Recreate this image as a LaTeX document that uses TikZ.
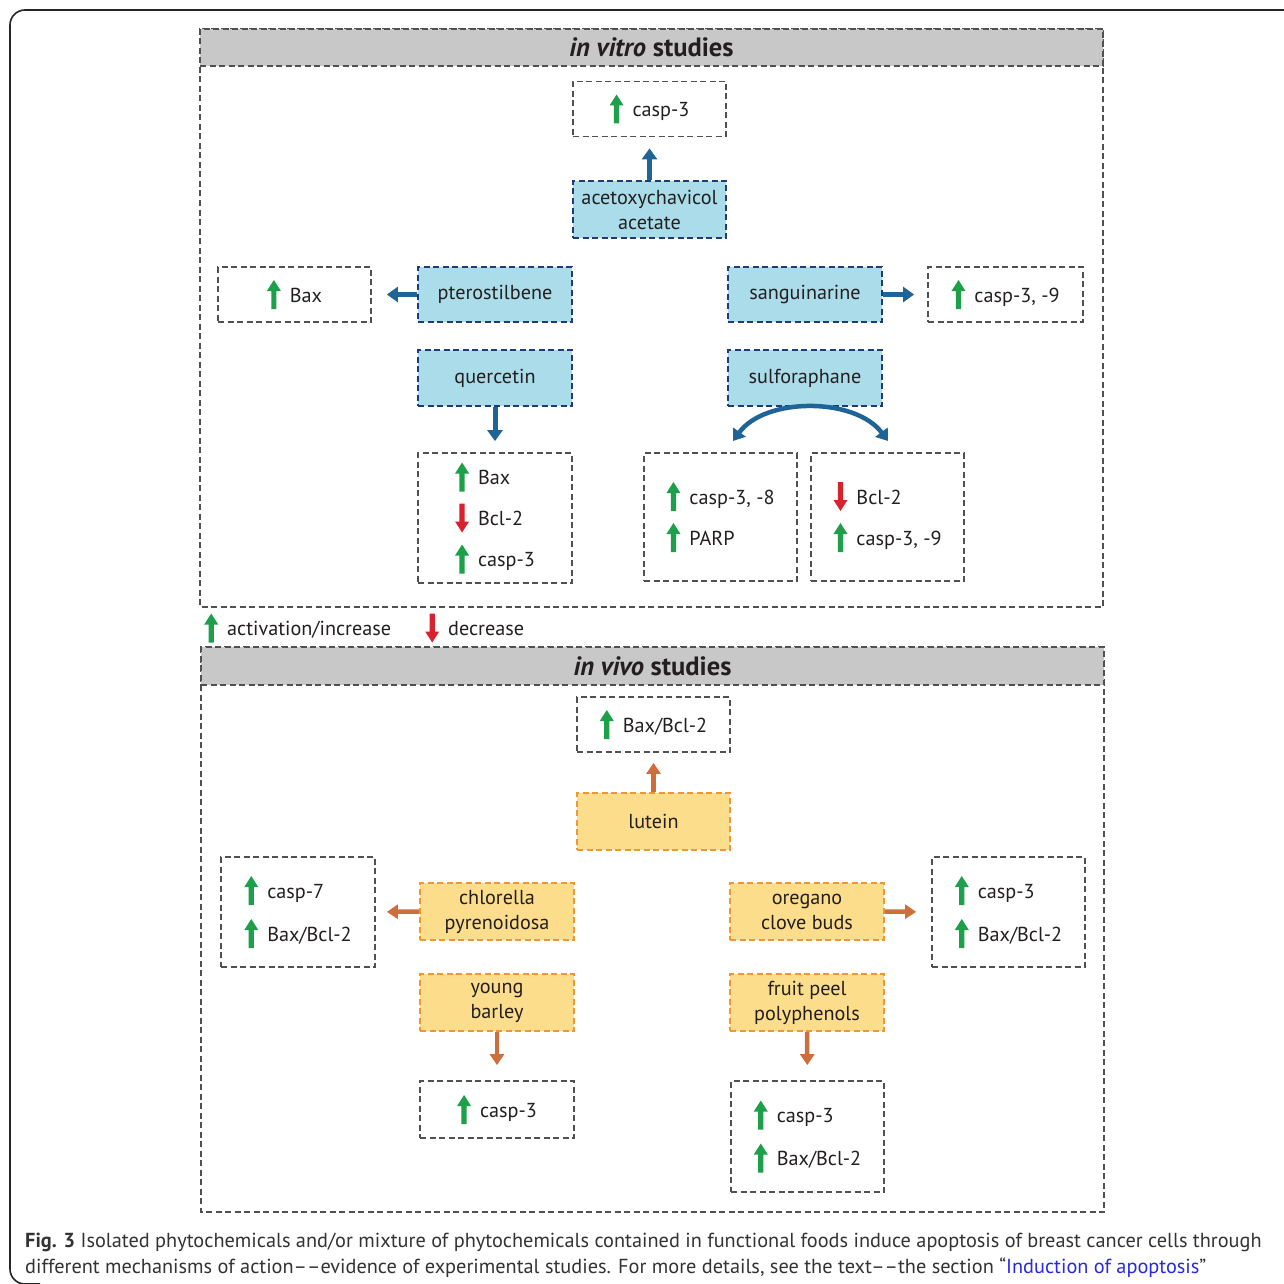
\documentclass[tikz,border=0pt]{standalone}
\usepackage{fontspec}
\setmainfont{PT Sans}
\usetikzlibrary{arrows.meta,calc}
\definecolor{bluefill}{RGB}{170,221,233}
\definecolor{blueline}{RGB}{30,60,120}
\definecolor{bluearrow}{RGB}{30,100,150}
\definecolor{orfill}{RGB}{252,221,140}
\definecolor{orline}{RGB}{240,150,50}
\definecolor{orarrow}{RGB}{205,110,60}
\definecolor{hdrgray}{RGB}{200,200,200}
\definecolor{dashgray}{RGB}{80,80,80}
\definecolor{upgreen}{RGB}{30,160,75}
\definecolor{dnred}{RGB}{215,35,45}
\definecolor{txtc}{RGB}{35,31,32}
\definecolor{capc}{RGB}{51,51,51}
\definecolor{linkc}{RGB}{40,40,230}
\newcommand\lblfont{\fontsize{20.2}{25}\selectfont}
\newcommand\upg{\tikz[baseline=0pt,x=1pt,y=1pt]\fill[upgreen] (-2.6,-7) -- (-2.6,11) -- (-7,11) -- (0,22) -- (7,11) -- (2.6,11) -- (2.6,-7) -- cycle;}
\newcommand\dnr{\tikz[baseline=0pt,x=1pt,y=1pt]\fill[dnred] (-2.6,22) -- (-2.6,4) -- (-7,4) -- (0,-7) -- (7,4) -- (2.6,4) -- (2.6,22) -- cycle;}
\tikzset{
 dsh/.style={dash pattern=on 6pt off 3.5pt, line width=1.8pt},
 panel/.style={draw=dashgray, dsh},
 hdr/.style={draw=dashgray, dsh, fill=hdrgray, inner sep=0pt, text=txtc, font=\fontsize{26.5}{30}\selectfont\bfseries},
 res/.style={draw=dashgray, dsh, fill=white, minimum width=153pt, minimum height=55pt, inner sep=0pt, align=left, text=txtc, font=\lblfont},
 bchem/.style={draw=blueline, fill=bluefill, dsh, minimum width=154pt, minimum height=56pt, inner sep=0pt, align=center, text=txtc, font=\lblfont},
 ochem/.style={draw=orline, fill=orfill, dsh, minimum width=154pt, minimum height=57pt, inner sep=0pt, align=center, text=txtc, font=\lblfont},
 barr/.style={draw=bluearrow, line width=5pt, -{Triangle[width=15pt,length=11pt]}},
 oarr/.style={draw=orarrow, line width=4.5pt, -{Triangle[width=14pt,length=11pt]}},
 leg/.style={inner sep=0pt, anchor=west, text=txtc, font=\lblfont},
 capstyle/.style={inner sep=0pt, anchor=base west, text=capc, font=\fontsize{20.3}{26}\selectfont},
}
\begin{document}
\begin{tikzpicture}[x=1pt,y=-1pt]
\useasboundingbox (0,0) rectangle (1284,1284);
\clip (0,0) rectangle (1284,1284);
\fill[white] (0,0) rectangle (1284,1284);
% outer frame
\draw[line width=1.6pt, black!85, rounded corners=15pt] (1300,10) -- (10,10) -- (10,1284) -- (40,1284);

% ===== in vitro =====
\draw[panel] (200,29) rectangle (1103,607);
\node[hdr, minimum width=903pt, minimum height=37pt] (hvitro) at (651.5,47.5) {\textit{in vitro} studies};

\node[res] (c3) at (649.5,109) {\upg\hspace{9pt}casp-3};
\node[bchem, minimum width=153pt, minimum height=57pt] (aca) at (649.5,209.5) {acetoxychavicol\\acetate};
\node[res] (baxL) at (294.5,294.5) {\upg\hspace{9pt}Bax};
\node[bchem, minimum height=55pt] (ptero) at (495,294.5) {pterostilbene};
\node[bchem, minimum height=55pt] (sang) at (805,294.5) {sanguinarine};
\node[res, minimum width=155pt] (c39) at (1005.5,294.5) {\upg\hspace{9pt}casp-3, -9};
\node[bchem] (quer) at (495,378) {quercetin};
\node[bchem] (sulf) at (805,378) {sulforaphane};
\node[res, minimum width=154pt, minimum height=130pt, font=\fontsize{20.2}{41}\selectfont] (qres) at (495,518) {\upg\hspace{9pt}Bax\\\dnr\hspace{9pt}Bcl-2\\\upg\hspace{9pt}casp-3};
\node[res, minimum height=128pt, font=\fontsize{20.2}{41}\selectfont] (s1) at (720.5,517) {\upg\hspace{9pt}casp-3, -8\\\upg\hspace{9pt}PARP};
\node[res, minimum height=128pt, font=\fontsize{20.2}{41}\selectfont] (s2) at (887.5,517) {\dnr\hspace{9pt}Bcl-2\\\upg\hspace{9pt}casp-3, -9};

\draw[barr, shorten >=11pt] (aca.north) -- (c3.south);
\draw[barr, shorten >=15pt] (ptero.west) -- (baxL.east);
\draw[barr, shorten >=13pt] (sang.east) -- (c39.west);
\draw[barr, shorten >=11pt] (quer.south) -- (qres.north);
\coordinate (sA) at (733,441);
\coordinate (sB) at (888,441);
\draw[draw=bluearrow, line width=4.5pt, {Triangle[width=15pt,length=11pt]}-{Triangle[width=15pt,length=11pt]}] (sA) .. controls (765,397) and (855,397) .. (sB);

% legend
\node[leg] (leg1) at (204,628) {\upg\hspace{9pt}activation/increase};
\node[leg] (leg2) at (425,628) {\dnr\hspace{9pt}decrease};

% ===== in vivo =====
\draw[panel] (201,647) rectangle (1104,1212);
\node[hdr, minimum width=903pt, minimum height=38pt] (hvivo) at (652.5,666) {\textit{in vivo} studies};

\node[res] (bb) at (653.5,724.5) {\upg\hspace{9pt}Bax/Bcl-2};
\node[ochem, minimum width=153pt] (lut) at (653.5,821.5) {lutein};
\node[ochem] (chl) at (497,911.5) {chlorella\\pyrenoidosa};
\node[res, minimum width=154pt, minimum height=110pt, font=\fontsize{20.2}{43}\selectfont] (chlres) at (298,912) {\upg\hspace{9pt}casp-7\\\upg\hspace{9pt}Bax/Bcl-2};
\node[ochem] (ore) at (807,911.5) {oregano\\clove buds};
\node[res, minimum height=110pt, font=\fontsize{20.2}{43}\selectfont] (oreres) at (1008.5,912) {\upg\hspace{9pt}casp-3\\\upg\hspace{9pt}Bax/Bcl-2};
\node[ochem] (yb) at (497,1002.5) {young\\barley};
\node[res, minimum width=154pt, minimum height=57pt] (ybres) at (497,1109.5) {\upg\hspace{9pt}casp-3};
\node[ochem] (fp) at (807,1002.5) {fruit peel\\polyphenols};
\node[res, minimum height=111pt, font=\fontsize{20.2}{43}\selectfont] (fpres) at (807.5,1136.5) {\upg\hspace{9pt}casp-3\\\upg\hspace{9pt}Bax/Bcl-2};

\draw[oarr, shorten >=10pt] (lut.north) -- (bb.south);
\draw[oarr, shorten >=11pt] (chl.west) -- (chlres.east);
\draw[oarr, shorten >=15pt] (ore.east) -- (oreres.west);
\draw[oarr, shorten >=15pt] (yb.south) -- (ybres.north);
\draw[oarr, shorten >=15pt] (fp.south) -- (fpres.north);

% caption
\node[capstyle] (cap1) at (25,1247) {\textbf{Fig. 3} Isolated phytochemicals and/or mixture of phytochemicals contained in functional foods induce apoptosis of breast cancer cells through};
\node[capstyle] (cap2) at (25,1273) {different mechanisms of action\textendash\textendash evidence of experimental studies. For more details, see the text\textendash\textendash the section \textquotedblleft\textcolor{linkc}{Induction of apoptosis}\textquotedblright};
\end{tikzpicture}
\end{document}
